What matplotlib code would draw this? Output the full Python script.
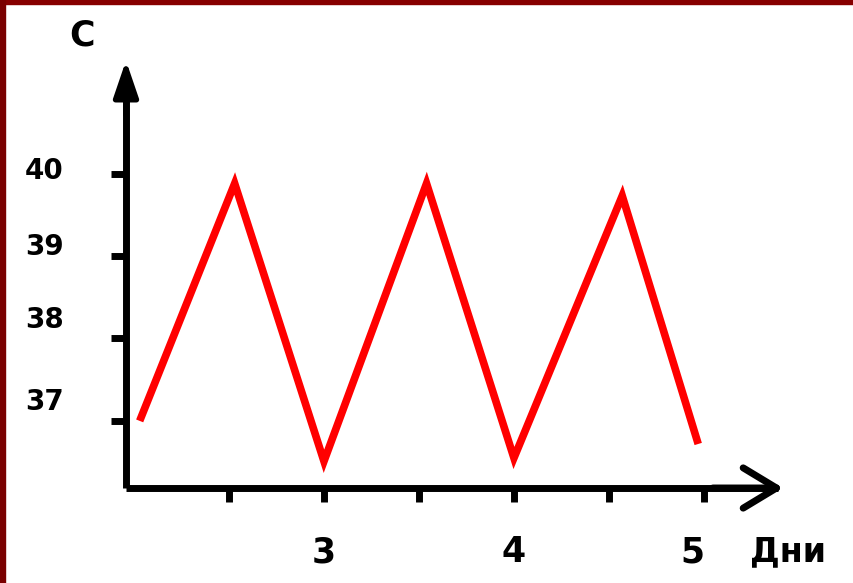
import matplotlib
matplotlib.use('Agg')
import matplotlib.pyplot as plt
from matplotlib.patches import Rectangle
from matplotlib.transforms import ScaledTranslation

# temperature curve (days, degrees C)
days = [2.03, 2.53, 3.0, 3.54, 4.0, 4.57, 4.97]
temps = [37.0, 39.88, 36.51, 39.88, 36.55, 39.73, 36.72]

xticks = [2.5, 3, 3.5, 4, 4.5, 5]
xlabels = ['', '3', '', '4', '', '5']
yticks = [40, 39, 38, 37]
ylabels = ['40', '39', '38', '37']
ylabel_lift = [6, 12, 21, 22]   # px, labels sit a bit above their ticks

plt.rcParams['font.family'] = 'DejaVu Sans'
plt.rcParams['font.weight'] = 'bold'

fig = plt.figure(figsize=(8.54, 5.83), dpi=100)
fig.patch.set_facecolor('white')

# dark red frame on top and left edge
fig.patches.append(Rectangle((0, 1 - 4/583), 1, 4/583, transform=fig.transFigure,
                             color='#870000', zorder=0))
fig.patches.append(Rectangle((0, 0), 5/854, 1, transform=fig.transFigure,
                             color='#7a0000', zorder=0))

ax = fig.add_axes([126/854, 95/583, 652/854, 415/583])
ax.set_xlim(1.958, 5.39)
ax.set_ylim(36.186, 41.22)
ax.patch.set_alpha(0)

ax.plot(days, temps, color='#ff0000', lw=5.5, solid_joinstyle='miter', solid_capstyle='butt')

for s in ['top', 'right']:
    ax.spines[s].set_visible(False)
for s in ['left', 'bottom']:
    ax.spines[s].set_linewidth(5)
    ax.spines[s].set_capstyle('butt')

# arrow heads
ax.annotate('', xy=(1.008, 0), xytext=(0.9, 0), xycoords='axes fraction',
            arrowprops=dict(arrowstyle='->,head_length=2.4,head_width=1.45',
                            mutation_scale=10, lw=5, color='black',
                            shrinkA=0, shrinkB=0))
ax.annotate('', xy=(0, 1.03), xytext=(0, 0.9), xycoords='axes fraction',
            arrowprops=dict(arrowstyle='-|>,head_length=2.2,head_width=0.75',
                            mutation_scale=10, lw=4, color='black',
                            shrinkA=0, shrinkB=0))

ax.set_xticks(xticks)
ax.set_xticklabels(xlabels, fontsize=25, fontweight='bold')
ax.set_yticks(yticks)
ax.set_yticklabels(ylabels, fontsize=20, fontweight='bold')
ax.tick_params(axis='x', direction='out', length=10, width=5, pad=24)
ax.tick_params(axis='y', direction='out', length=11, width=5, pad=34)

for lbl, dy in zip(ax.get_yticklabels(), ylabel_lift):
    lbl.set_transform(lbl.get_transform() + ScaledTranslation(0, dy/100, fig.dpi_scale_trans))
# the "5" is written slightly left of its tick
xl = ax.get_xticklabels()[-1]
xl.set_transform(xl.get_transform() + ScaledTranslation(-12/100, 0, fig.dpi_scale_trans))

fig.text(788/854, 1 - 552/583, 'Дни', fontsize=24, fontweight='bold', ha='center', va='center')
fig.text(82/854, 1 - 36/583, 'С', fontsize=25, fontweight='bold', ha='center', va='center')

fig.savefig('out.png', dpi=100)
